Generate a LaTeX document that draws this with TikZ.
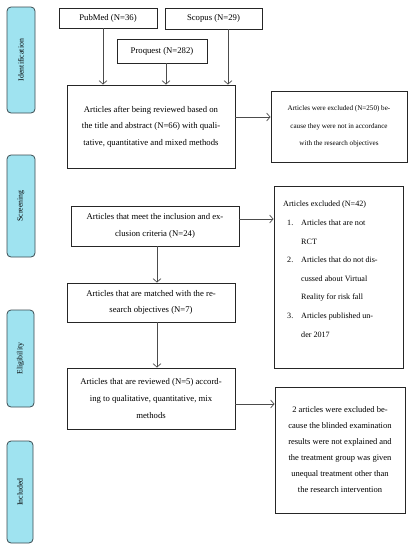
\documentclass[tikz,border=0pt]{standalone}
\usepackage{fontspec}
\setmainfont{Liberation Serif}
\usetikzlibrary{arrows.meta}
\definecolor{phasefill}{HTML}{9FE3F0}
\definecolor{phasedraw}{HTML}{3A4A50}
\tikzset{
  box/.style={draw=black!85, line width=0.9pt, fill=white, align=center, inner sep=0pt},
  maintxt/.style={font=\fontsize{8.7}{16.6}\selectfont},
  smalltxt/.style={font=\fontsize{7.1}{17.5}\selectfont},
  phase/.style={draw=phasedraw, fill=phasefill, line width=0.8pt, rounded corners=4pt, inner sep=0pt,
     font=\fontsize{7.8}{8}\selectfont},
  arr/.style={draw=black!70, line width=0.7pt, -{Straight Barb[length=3.5pt,width=8pt]}},
}
\begin{document}
\begin{tikzpicture}[x=1pt,y=-1pt]
\useasboundingbox (0,0) rectangle (415,550);
% phases
\node[phase, minimum width=28pt, minimum height=106pt] (ph1) at (21,60) {\rotatebox{90}{Identification}};
\node[phase, minimum width=28pt, minimum height=102pt] (ph2) at (21,206) {\rotatebox{90}{Screening}};
\node[phase, minimum width=27pt, minimum height=97pt] (ph3) at (20.5,358.5) {\rotatebox{90}{Eligibility}};
\node[phase, minimum width=26pt, minimum height=102pt] (ph4) at (20,492) {\rotatebox{90}{Included}};
% sources
\node[box, maintxt, minimum width=98pt, minimum height=20pt] (pub) at (108,18) {PubMed (N=36)};
\node[box, maintxt, minimum width=97pt, minimum height=21pt] (sco) at (213.5,18.5) {Scopus (N=29)};
\node[box, maintxt, minimum width=90pt, minimum height=24pt] (pro) at (162,51) {Proquest (N=282)};
% main column
\node[box, maintxt, minimum width=168pt, minimum height=83pt] (b1) at (151,126.5)
  {Articles after being reviewed based on\\the title and abstract (N=66) with quali-\\tative, quantitative and mixed methods};
\node[box, maintxt, minimum width=168pt, minimum height=40pt] (b2) at (155,226)
  {Articles that meet the inclusion and ex-\\clusion criteria (N=24)};
\node[box, maintxt, minimum width=168pt, minimum height=39pt] (b4) at (151,302.5)
  {Articles that are matched with the re-\\search objectives (N=7)};
\node[box, maintxt, minimum width=168pt, minimum height=61pt] (b5) at (151,398.5)
  {Articles that are reviewed (N=5) accord-\\ing to qualitative, quantitative, mix\\methods};
% exclusion boxes
\node[box, smalltxt, minimum width=136pt, minimum height=71pt] (e1) at (339,126.5)
  {Articles were excluded (N=250) be-\\cause they were not in accordance\\with the research objectives};
\node[box, minimum width=129pt, minimum height=182pt] (e2) at (338.5,277) {};
\node[anchor=north west, inner sep=0pt, align=left, font=\fontsize{8.1}{18.6}\selectfont] (e2t) at (283,201)
  {Articles excluded (N=42)\\
   \makebox[18pt][l]{\hspace{4pt}1.}Articles that are not\\
   \hspace*{18pt}RCT\\
   \makebox[18pt][l]{\hspace{4pt}2.}Articles that do not dis-\\
   \hspace*{18pt}cussed about Virtual\\
   \hspace*{18pt}Reality for risk fall\\
   \makebox[18pt][l]{\hspace{4pt}3.}Articles published un-\\
   \hspace*{18pt}der 2017};
\node[box, font=\fontsize{8.5}{16}\selectfont, minimum width=130pt, minimum height=126pt] (e3) at (340,450)
  {2 articles were excluded be-\\cause the blinded examination\\results were not explained and\\the treatment group was given\\unequal treatment other than\\the research intervention};
% connectors
\draw[arr] ([xshift=-5pt]pub.south) -- ([xshift=-5pt]pub.south |- b1.north);
\draw[arr] ([xshift=4pt]pro.south) -- ([xshift=4pt]pro.south |- b1.north);
\draw[arr] ([xshift=14.5pt]sco.south) -- ([xshift=14.5pt]sco.south |- b1.north);
\draw[arr] ([yshift=9.5pt]b1.east) -- ([yshift=9.5pt]b1.east -| e1.west);
\draw[arr] ([yshift=7pt]b2.east) -- ([yshift=7pt]b2.east -| e2.west);
\draw[arr] ([xshift=2pt]b2.south) -- ([xshift=2pt]b2.south |- b4.north);
\draw[arr] ([xshift=6pt]b4.south) -- ([xshift=6pt]b4.south |- b5.north);
\draw[arr] ([yshift=-5.5pt]b5.east) -- ([yshift=-5.5pt]b5.east -| e3.west);
\end{tikzpicture}
\end{document}
